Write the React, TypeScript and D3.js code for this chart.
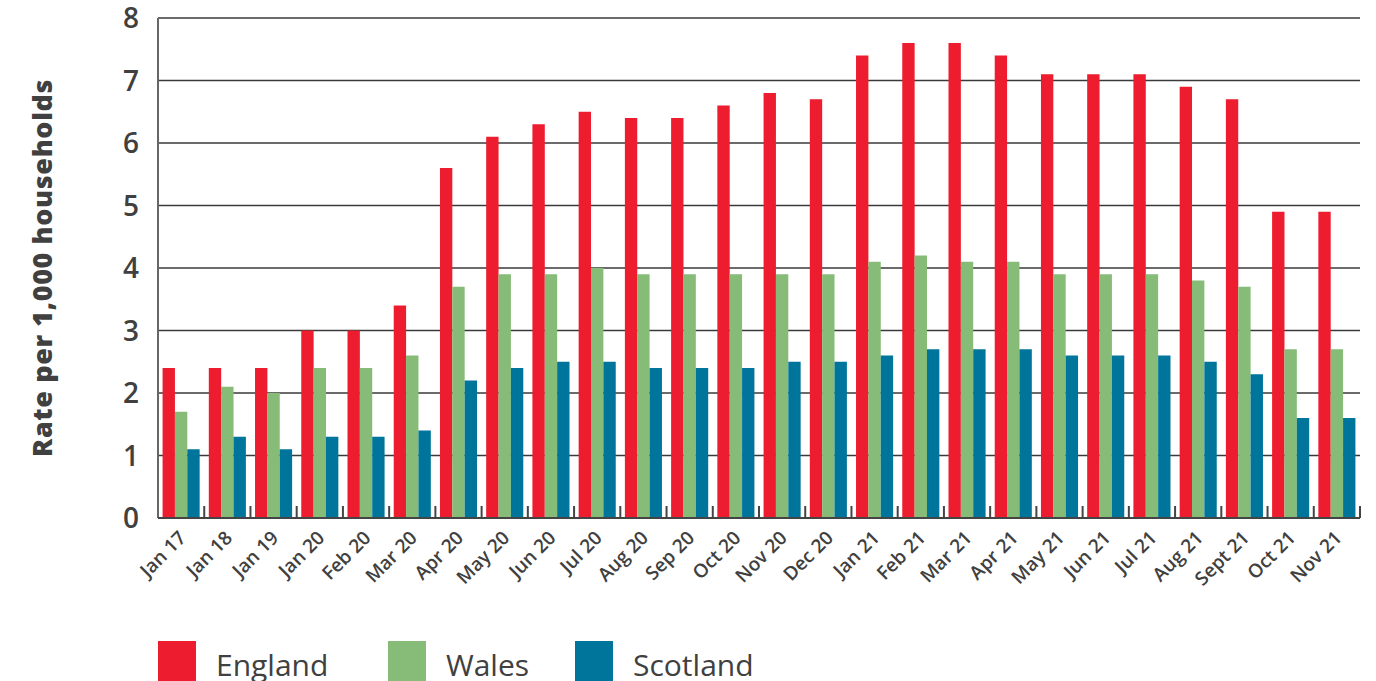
import React, { useRef, useEffect } from "react";
import * as d3 from "d3";

const months = [
  "Jan 17", "Jan 18", "Jan 19", "Jan 20", "Feb 20", "Mar 20", "Apr 20", "May 20", "Jun 20",
  "Jul 20", "Aug 20", "Sep 20", "Oct 20", "Nov 20", "Dec 20", "Jan 21", "Feb 21", "Mar 21",
  "Apr 21", "May 21", "Jun 21", "Jul 21", "Aug 21", "Sept 21", "Oct 21", "Nov 21",
];
const england = [2.4, 2.4, 2.4, 3.0, 3.0, 3.4, 5.6, 6.1, 6.3, 6.5, 6.4, 6.4, 6.6, 6.8, 6.7, 7.4, 7.6, 7.6, 7.4, 7.1, 7.1, 7.1, 6.9, 6.7, 4.9, 4.9];
const wales = [1.7, 2.1, 2.0, 2.4, 2.4, 2.6, 3.7, 3.9, 3.9, 4.0, 3.9, 3.9, 3.9, 3.9, 3.9, 4.1, 4.2, 4.1, 4.1, 3.9, 3.9, 3.9, 3.8, 3.7, 2.7, 2.7];
const scotland = [1.1, 1.3, 1.1, 1.3, 1.3, 1.4, 2.2, 2.4, 2.5, 2.5, 2.4, 2.4, 2.4, 2.5, 2.5, 2.6, 2.7, 2.7, 2.7, 2.6, 2.6, 2.6, 2.5, 2.3, 1.6, 1.6];
const seriesNames = ["England", "Wales", "Scotland"];
const colors = ["#ED1C2E", "#86BC77", "#00759B"];
const yTicks = [0, 1, 2, 3, 4, 5, 6, 7, 8];

const width = 1376;
const height = 681;
const left = 158;
const right = 1360;
const top = 18;
const bottom = 518;
const textColor = "#404040";

export default function App() {
  const ref = useRef<SVGSVGElement>(null);

  useEffect(() => {
    const svg = d3.select(ref.current);
    svg.selectAll("*").remove();

    const x = d3.scaleBand().domain(months).range([left, right]).paddingInner(0).paddingOuter(0);
    const inner = d3.scaleBand().domain(seriesNames).range([0, x.bandwidth()]).paddingOuter(0.37).paddingInner(0);
    const y = d3.scaleLinear().domain([0, 8]).range([bottom, top]);

    // gridlines
    svg.append("g")
      .selectAll("line")
      .data(yTicks.filter((t) => t > 0))
      .join("line")
      .attr("x1", left)
      .attr("x2", right)
      .attr("y1", (d) => y(d))
      .attr("y2", (d) => y(d))
      .attr("stroke", "#3a3a3a")
      .attr("stroke-width", 1.5);

    // y tick labels
    svg.append("g")
      .selectAll("text")
      .data(yTicks)
      .join("text")
      .attr("x", 139)
      .attr("y", (d) => y(d))
      .attr("dy", "0.36em")
      .attr("text-anchor", "end")
      .attr("font-family", "Open Sans")
      .attr("font-weight", 600)
      .attr("font-size", 28)
      .attr("fill", textColor)
      .text((d) => d);

    // y axis title
    svg.append("text")
      .attr("transform", `translate(52, 268) rotate(-90)`)
      .attr("text-anchor", "middle")
      .attr("font-family", "Open Sans")
      .attr("font-weight", 800)
      .attr("font-size", 27)
      .attr("letter-spacing", 0.6)
      .attr("fill", textColor)
      .text("Rate per 1,000 households");

    // bars
    const all = [england, wales, scotland];
    all.forEach((vals, si) => {
      svg.append("g")
        .selectAll("rect")
        .data(vals)
        .join("rect")
        .attr("x", (d, i) => (x(months[i]) as number) + (inner(seriesNames[si]) as number))
        .attr("y", (d) => y(d))
        .attr("width", inner.bandwidth())
        .attr("height", (d) => y(0) - y(d))
        .attr("fill", colors[si]);
    });

    // left axis line
    svg.append("line")
      .attr("x1", left).attr("x2", left)
      .attr("y1", top).attr("y2", bottom)
      .attr("stroke", "#666")
      .attr("stroke-width", 2);

    // baseline
    svg.append("line")
      .attr("x1", left).attr("x2", right)
      .attr("y1", bottom).attr("y2", bottom)
      .attr("stroke", "#444")
      .attr("stroke-width", 2);

    // band ticks
    const tickXs = months.map((m) => (x(m) as number) + x.bandwidth());
    svg.append("g")
      .selectAll("line")
      .data(tickXs)
      .join("line")
      .attr("x1", (d) => d).attr("x2", (d) => d)
      .attr("y1", bottom - 12).attr("y2", bottom)
      .attr("stroke", "#444")
      .attr("stroke-width", 2);

    // x labels
    svg.append("g")
      .selectAll("text")
      .data(months)
      .join("text")
      .attr("transform", (d) => `translate(${(x(d) as number) + x.bandwidth() / 2 + 6}, ${bottom + 21}) rotate(-45)`)
      .attr("text-anchor", "end")
      .attr("font-family", "Open Sans")
      .attr("font-weight", 600)
      .attr("font-size", 19)
      .attr("fill", textColor)
      .text((d) => d);

    // legend
    const legendX = [158, 388, 575];
    const lg = svg.append("g");
    seriesNames.forEach((name, i) => {
      lg.append("rect")
        .attr("x", legendX[i])
        .attr("y", 641)
        .attr("width", 38)
        .attr("height", 40)
        .attr("fill", colors[i]);
      lg.append("text")
        .attr("x", legendX[i] + 58)
        .attr("y", 676)
        .attr("font-family", "Open Sans")
        .attr("font-size", 30)
        .attr("fill", textColor)
        .text(name);
    });
  }, []);

  return (
    <svg
      ref={ref}
      width={width}
      height={height}
      style={{ position: "absolute", left: 0, top: 0, background: "#fff" }}
    />
  );
}
